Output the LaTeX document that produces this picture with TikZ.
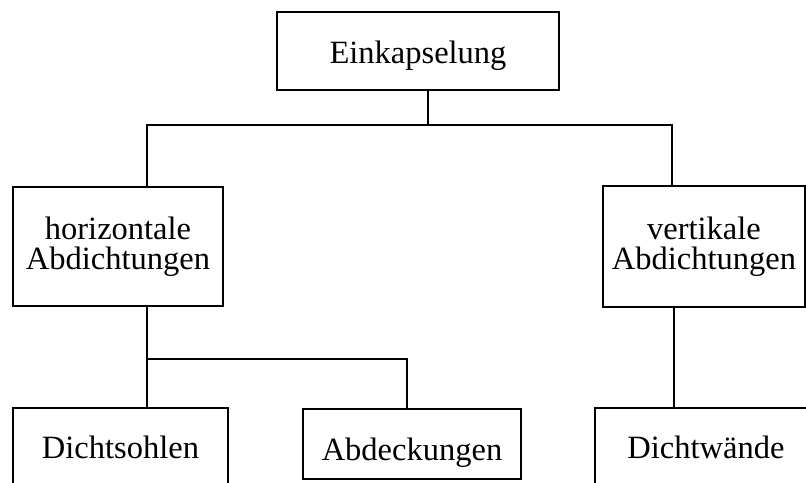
\documentclass[tikz,border=0pt]{standalone}
\usepackage{fontspec}
\setmainfont{Liberation Serif}
\begin{document}
\begin{tikzpicture}[x=1pt,y=-1pt,
  box/.style={draw, line width=2.2pt, inner sep=0pt, align=center,
    font=\fontsize{32.5}{30}\selectfont},
  onebox/.style={box, text depth=0pt},
  conn/.style={line width=2.2pt}]
\useasboundingbox (0,0) rectangle (806,482);
\clip (0,0) rectangle (806,482);
\node[onebox, text height=24pt, minimum width=282pt, minimum height=78pt] (top) at (418,51) {Einkapselung};
\node[box, minimum width=210pt, minimum height=119pt] (hor) at (118,246.5) {horizontale\\Abdichtungen};
\node[box, minimum width=202pt, minimum height=121pt] (ver) at (704,246.5) {vertikale\\Abdichtungen};
\node[onebox, text height=20pt, minimum width=215pt, minimum height=80pt] (soh) at (120.5,448) {Dichtsohlen};
\node[onebox, text height=32pt, minimum width=218pt, minimum height=70pt] (abd) at (412,444) {Abdeckungen};
\node[onebox, text height=20pt, minimum width=222pt, minimum height=80pt] (wan) at (706,448) {Dichtwände};
\coordinate (jt) at (428,125);
\coordinate (jl) at (147,125);
\coordinate (jr) at (672,125);
\coordinate (jh) at (147,359);
\coordinate (ja) at (407,359);
\coordinate (jv) at (674,359);
\draw[conn] (top.south -| jt) -- (jt);
\draw[conn] (hor.north -| jl) -- (jl) -- (jr) -- (ver.north -| jr);
\draw[conn] (hor.south -| jh) -- (soh.north -| jh);
\draw[conn] (jh) -- (ja) -- (abd.north -| ja);
\draw[conn] (ver.south -| jv) -- (wan.north -| jv);
\end{tikzpicture}
\end{document}
